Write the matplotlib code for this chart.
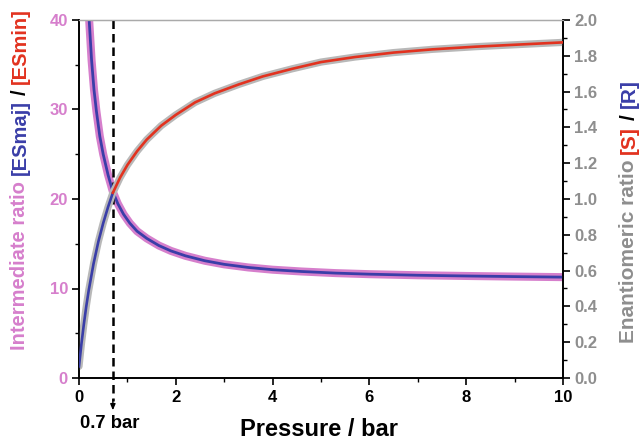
import matplotlib
matplotlib.use('Agg')
import matplotlib.pyplot as plt
from matplotlib.ticker import MultipleLocator, FormatStrFormatter
from matplotlib import transforms

plt.rcParams['font.family'] = ['Liberation Sans', 'DejaVu Sans']
plt.rcParams['font.weight'] = 'bold'

# intermediate ratio [ESmaj]/[ESmin] (left axis)
inter_p = [0.15, 0.21, 0.26, 0.31, 0.36, 0.43, 0.5, 0.6, 0.7, 0.8, 0.92, 1.05, 1.2,
           1.4, 1.65, 1.9, 2.2, 2.6, 3.0, 3.5, 4.0, 4.6, 5.3, 6.0, 7.0, 8.0, 9.0, 10.0]
inter_ratio = [50.0, 40.0, 35.5, 32.2, 29.8, 27.0, 25.0, 22.7, 20.8, 19.5, 18.3, 17.3,
               16.4, 15.6, 14.8, 14.2, 13.65, 13.1, 12.7, 12.35, 12.1, 11.9, 11.72,
               11.6, 11.48, 11.4, 11.33, 11.27]

# enantiomeric ratio [S]/[R] (right axis)
enant_p = [0.0, 0.05, 0.1, 0.15, 0.2, 0.3, 0.4, 0.5, 0.6, 0.7, 0.85, 1.0, 1.2, 1.4,
           1.7, 2.0, 2.4, 2.8, 3.3, 3.8, 4.4, 5.0, 5.7, 6.5, 7.3, 8.2, 9.1, 10.0]
enant_ratio = [0.065, 0.19, 0.30, 0.40, 0.488, 0.638, 0.762, 0.865, 0.955, 1.035, 1.12,
               1.19, 1.267, 1.332, 1.41, 1.47, 1.54, 1.59, 1.64, 1.685, 1.727, 1.765,
               1.793, 1.818, 1.836, 1.851, 1.863, 1.875]
cross_p = 0.7

pink = '#d67fcc'
blue = '#3a3ea8'
red = '#e2321f'
grey = '#b8b8b8'
grey_txt = '#8e8e8e'

fig = plt.figure(figsize=(6.39, 4.42), dpi=100)
ax = fig.add_axes([79 / 639, 64 / 442, 484 / 639, 358 / 442])
ax2 = ax.twinx()

# left axis curve
ax.plot(inter_p, inter_ratio, color=pink, lw=5.8, solid_capstyle='round', zorder=2)
ax.plot(inter_p, inter_ratio, color=blue, lw=2.0, zorder=3)

# right axis curve, blue before the crossing, red after
k = enant_p.index(cross_p)
ax2.plot(enant_p, enant_ratio, color=grey, lw=5.2, solid_capstyle='round', zorder=2)
ax2.plot(enant_p[:k + 1], enant_ratio[:k + 1], color=blue, lw=1.9, zorder=3)
ax2.plot(enant_p[k:], enant_ratio[k:], color=red, lw=1.9, zorder=3)

ax.set_xlim(0, 10)
ax.set_ylim(0, 40)
ax2.set_ylim(0, 2.0)
ax.xaxis.set_major_locator(MultipleLocator(2))
ax.xaxis.set_minor_locator(MultipleLocator(1))
ax.yaxis.set_major_locator(MultipleLocator(10))
ax.yaxis.set_minor_locator(MultipleLocator(5))
ax2.yaxis.set_major_locator(MultipleLocator(0.2))
ax2.yaxis.set_minor_locator(MultipleLocator(0.1))
ax2.yaxis.set_major_formatter(FormatStrFormatter('%.1f'))

for a in (ax, ax2):
    for s in a.spines.values():
        s.set_linewidth(1.2)
    a.spines['top'].set_color('#aaaaaa')
    a.spines['top'].set_linewidth(0.9)
ax.tick_params(axis='x', which='major', length=5, width=1.2, pad=4, labelsize=12)
ax.tick_params(axis='x', which='minor', length=3, width=1.0)
ax.tick_params(axis='y', which='major', length=5, width=1.2, pad=3, labelsize=12,
               labelcolor=pink)
ax.tick_params(axis='y', which='minor', length=3, width=1.0)
ax2.tick_params(axis='y', which='major', length=5, width=1.2, pad=3, labelsize=12,
                labelcolor=grey_txt)
ax2.tick_params(axis='y', which='minor', length=3, width=1.0)

# dashed marker at 0.7 bar, running below the axis
tr = transforms.blended_transform_factory(ax.transData, ax.transAxes)
ax.plot([cross_p, cross_p], [1.0, -0.065], transform=tr, color='k', lw=1.8,
        linestyle=(0, (3.4, 2.0)), clip_on=False, zorder=4)
ax.annotate('', xy=(cross_p, -0.09), xytext=(cross_p, -0.06), xycoords=tr, textcoords=tr,
            arrowprops=dict(arrowstyle='-|>,head_length=0.35,head_width=0.15',
                            color='k', lw=1.0, shrinkA=0, shrinkB=0),
            annotation_clip=False)

fig.text(110 / 639, 1 - 424 / 442, '0.7 bar', ha='center', va='center', fontsize=13.3,
         fontweight='bold')
fig.text(319 / 639, 1 - 430 / 442, 'Pressure / bar', ha='center', va='center',
         fontsize=17, fontweight='bold')


def vlabel(x, y0, pieces, size):
    # multi-coloured rotated label, stacked bottom to top
    fig.canvas.draw()
    renderer = fig.canvas.get_renderer()
    gap = size * 0.28 / 72 * fig.dpi / fig.bbox.height
    y = y0
    for txt, col in pieces:
        t = fig.text(x, y, txt, rotation=90, ha='center', va='bottom', color=col,
                     fontsize=size, fontweight='bold')
        bb = t.get_window_extent(renderer)
        y += bb.height / fig.bbox.height + gap


vlabel(20 / 639, 1 - 350 / 442,
       [('Intermediate ratio', pink), ('[ESmaj]', blue), ('/', 'k'), ('[ESmin]', red)], 14.5)
vlabel(629 / 639, 1 - 343 / 442,
       [('Enantiomeric ratio', grey_txt), ('[S]', red), ('/', 'k'), ('[R]', blue)], 15)

fig.savefig('out.png', dpi=100)
